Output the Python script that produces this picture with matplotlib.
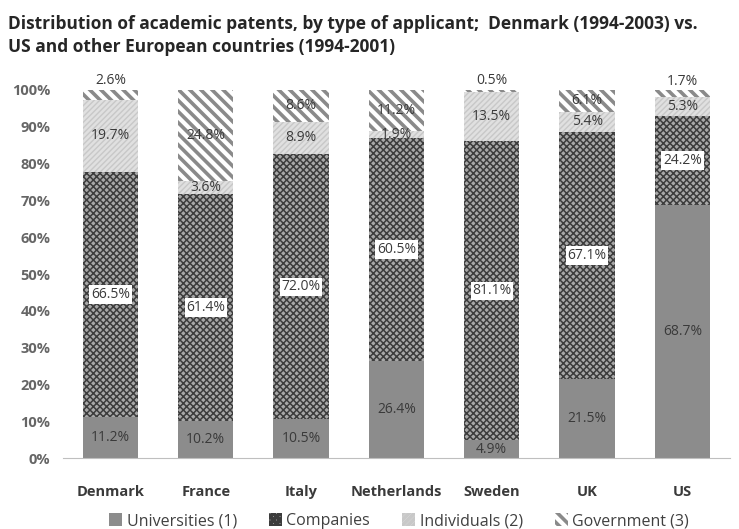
import numpy as np
import matplotlib
matplotlib.use('Agg')
import matplotlib.pyplot as plt

plt.rcParams['font.family'] = ['Open Sans', 'DejaVu Sans']

# data (percent)
countries = ['Denmark', 'France', 'Italy', 'Netherlands', 'Sweden', 'UK', 'US']
universities = [11.2, 10.2, 10.5, 26.4, 4.9, 21.5, 68.7]
companies = [66.5, 61.4, 72.0, 60.5, 81.1, 67.1, 24.2]
individuals = [19.7, 3.6, 8.9, 1.9, 13.5, 5.4, 5.3]
government = [2.6, 24.8, 8.6, 11.2, 0.5, 6.1, 1.7]
legend_labels = ['Universities (1)', 'Companies', 'Individuals (2)', 'Government (3)']
yticks = [0, 10, 20, 30, 40, 50, 60, 70, 80, 90, 100]

series = [universities, companies, individuals, government]
styles = [
    dict(facecolor='#8c8c8c', edgecolor='#8c8c8c', hatch=None, hlw=1.0),
    dict(facecolor='#a8a8a8', edgecolor='#3c3c3c', hatch='xxxxx', hlw=1.1),
    dict(facecolor='#e0e0e0', edgecolor='#c8c8c8', hatch='//////', hlw=1.0),
    dict(facecolor='white', edgecolor='#8a8a8a', hatch='\\\\\\', hlw=2.6),
]

fig = plt.figure(figsize=(7.39, 5.29), dpi=100)
ax = fig.add_axes([0.085, 0.134, 0.903, 0.696])

x = np.arange(len(countries))
bottom = np.zeros(len(countries))
handles = []
for vals, st, lab in zip(series, styles, legend_labels):
    plt.rcParams['hatch.linewidth'] = st['hlw']
    b = ax.bar(x, vals, 0.58, bottom=bottom, color=st['facecolor'],
               edgecolor=st['edgecolor'], hatch=st['hatch'], linewidth=0, label=lab)
    handles.append(b)
    bottom = bottom + np.array(vals)

# value labels
txt_col = '#3a3a3a'
bottom = np.zeros(len(countries))
for k, vals in enumerate(series):
    for i, v in enumerate(vals):
        yc = bottom[i] + v / 2
        if k == 3 and v < 3:
            yc = bottom[i] + v + 2.5
        kw = dict(ha='center', va='center', fontsize=10, color=txt_col, clip_on=False)
        if k == 1:
            kw['bbox'] = dict(boxstyle='square,pad=0.12', facecolor='white', edgecolor='none')
        ax.text(x[i], yc, '%.1f%%' % v, **kw)
    bottom = bottom + np.array(vals)

ax.set_xlim(-0.5, len(countries) - 0.5)
ax.set_ylim(0, 100)
ax.set_yticks(yticks)
ax.set_yticklabels(['%d%%' % t for t in yticks], fontsize=10.5, fontweight='bold', color='#666666')
ax.set_xticks(x)
ax.set_xticklabels(countries, fontsize=10.5, fontweight='bold', color='#3a3a3a')
ax.tick_params(axis='both', length=0)
ax.tick_params(axis='x', pad=19)
ax.tick_params(axis='y', pad=9)
for s in ['left', 'right', 'top']:
    ax.spines[s].set_visible(False)
ax.spines['bottom'].set_color('#bfbfbf')

fig.text(0.011, 0.972, 'Distribution of academic patents, by type of applicant;  Denmark (1994-2003) vs.\n'
         'US and other European countries (1994-2001)', ha='left', va='top',
         fontsize=12.5, fontweight='bold', color='#262626', linespacing=1.4)

fig.legend(handles=handles, labels=legend_labels, loc='center', bbox_to_anchor=(0.54, 0.015),
           ncol=4, frameon=False, handlelength=0.8, handleheight=0.8,
           handletextpad=0.3, columnspacing=2.0, labelcolor='#404040',
           prop=dict(size=11.5))

fig.savefig('out.png', dpi=100)
